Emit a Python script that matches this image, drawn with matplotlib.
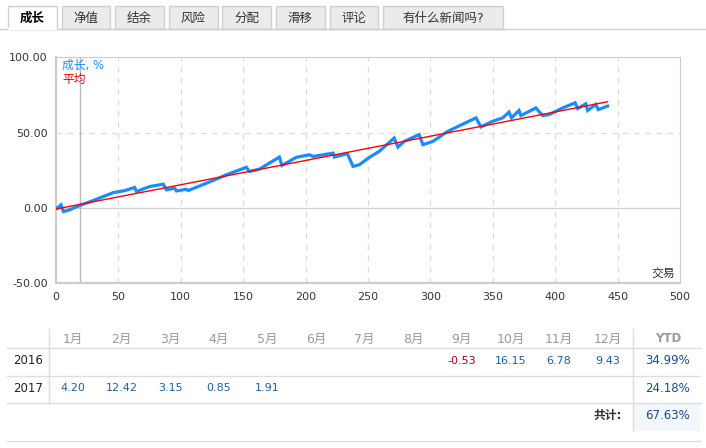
import numpy as np
import matplotlib
matplotlib.use('Agg')
import matplotlib.pyplot as plt
from matplotlib.patches import Rectangle

plt.rcParams['font.family'] = ['DejaVu Sans', 'Noto Sans CJK SC']

# ------------------------------
# data
# ------------------------------
tabs = ['成长', '净值', '结余', '风险', '分配', '滑移', '评论', '有什么新闻吗?']

trades = [0, 1, 4, 6, 10, 18, 30, 38, 46, 55, 63, 64.5, 75, 86, 88.5, 95, 96.5,
          104.5, 106, 120.5, 136.5, 152.5, 155, 163, 179, 181, 192.5, 203, 206,
          222, 223, 233.5, 238, 243, 251, 259, 271, 274, 279, 291, 294, 302,
          314, 336.5, 340.5, 350, 358, 363, 365, 371, 372.5, 384.5, 390, 395,
          406, 416, 418, 424.5, 426, 432.5, 434.5, 442]
growth = [0.0, -0.2, 2.0, -2.4, -1.5, 1.3, 5.0, 7.6, 10.2, 11.5, 13.6, 10.9,
          14.2, 15.8, 12.0, 13.1, 11.3, 12.4, 11.6, 16.4, 22.0, 27.0, 24.2,
          25.8, 33.8, 28.2, 33.6, 35.3, 34.2, 36.4, 33.8, 36.0, 27.6, 28.7,
          33.5, 37.6, 46.4, 40.4, 44.2, 48.7, 42.0, 44.2, 50.9, 59.8, 53.8,
          57.6, 59.8, 63.6, 59.8, 64.7, 61.3, 66.4, 61.3, 62.0, 66.4, 69.8,
          66.0, 69.1, 64.7, 68.7, 65.3, 67.63]

avg_trades = [0, 442]
avg_growth = [-0.7, 70.5]
marker_trade = 19

months = ['1月', '2月', '3月', '4月', '5月', '6月', '7月', '8月', '9月', '10月', '11月', '12月']
years = ['2016', '2017']
monthly = [
    [None, None, None, None, None, None, None, None, -0.53, 16.15, 6.78, 9.43],
    [4.20, 12.42, 3.15, 0.85, 1.91, None, None, None, None, None, None, None],
]
ytd = [34.99, 24.18]
total = 67.63

# ------------------------------
# figure
# ------------------------------
W, H = 706, 448
fig = plt.figure(figsize=(W / 100, H / 100), dpi=100)
fig.patch.set_facecolor('white')

# chart area
ax = fig.add_axes([56 / W, (H - 283.3) / H, 624 / W, 226 / H])
ax.set_xlim(0, 500)
ax.set_ylim(-50, 100)
ax.set_xticks(np.arange(0, 501, 50))
ax.set_yticks([-50, 0, 50, 100])
ax.set_yticklabels([f'{v:.2f}' for v in [-50, 0, 50, 100]])
ax.tick_params(length=0, labelsize=8, colors='#333344', pad=6)
for s in ax.spines.values():
    s.set_color('#cccccc')
ax.spines['left'].set_linewidth(1.6)
ax.spines['bottom'].set_linewidth(1.6)

for xv in range(50, 500, 50):
    ax.axvline(xv, color='#dddddd', lw=1, ls=(0, (4, 4)), zorder=1)
ax.axhline(50, color='#dddddd', lw=1, ls=(0, (4, 4)), zorder=1)
ax.axhline(0, color='#d4d4d4', lw=1, zorder=1)
ax.axvline(marker_trade, color='#b8b8b8', lw=1, zorder=1)

ax.plot(trades, growth, color='#1a8cff', lw=2.3, solid_joinstyle='miter', zorder=3)
ax.plot(avg_trades, avg_growth, color='#ff0000', lw=1.0, zorder=4)

ax.text(0.01, 0.965, '成长, %', transform=ax.transAxes, color='#1a8cff',
        fontsize=8.5, va='center', ha='left')
ax.text(0.01, 0.9, '平均', transform=ax.transAxes, color='#ee0000',
        fontsize=8.5, va='center', ha='left')
ax.text(0.992, 0.04, '交易', transform=ax.transAxes, color='#333333',
        fontsize=8.5, va='center', ha='right')

# overlay in pixel coordinates for tabs and table
ov = fig.add_axes([0, 0, 1, 1], zorder=5)
ov.set_xlim(0, W)
ov.set_ylim(H, 0)
ov.axis('off')
ov.patch.set_alpha(0)

# tabs
ov.plot([0, W], [29.3, 29.3], color='#cccccc', lw=1)
for i, name in enumerate(tabs):
    x0 = 8 + 53.6 * i
    w = 120 if i == len(tabs) - 1 else 48.7
    active = i == 0
    ov.add_patch(Rectangle((x0, 6), w, 23.3, facecolor='white' if active else '#ebebeb',
                           edgecolor='#d0d0d0', lw=1))
    if active:
        ov.plot([x0 + 0.5, x0 + w - 0.5], [29.3, 29.3], color='white', lw=1.5)
    ov.text(x0 + w / 2, 18, name, ha='center', va='center', fontsize=9,
            color='#000000' if active else '#333333',
            fontweight='bold' if active else 'normal')

# table
col_x = [73 + 48.6 * i for i in range(12)]
ytd_x = 668
line_c = '#dddddd'
for yl in [347.7, 375.7, 403.3, 440.7]:
    ov.plot([7, 700], [yl, yl], color=line_c, lw=1)
ov.plot([49.3, 49.3], [329, 403.3], color=line_c, lw=1)
ov.add_patch(Rectangle((632.7, 404), 67.3, 27, facecolor='#f3f6fb', edgecolor='none'))
ov.plot([632.7, 632.7], [329, 431], color=line_c, lw=1)

for x, m in zip(col_x, months):
    ov.text(x, 339, m, ha='center', va='center', fontsize=9, color='#999999')
ov.text(ytd_x, 339, 'YTD', ha='center', va='center', fontsize=8.5,
        color='#999999', fontweight='bold')

row_y = [360.7, 388.3]
for r, (yr, vals) in enumerate(zip(years, monthly)):
    ov.text(28, row_y[r], yr, ha='center', va='center', fontsize=8.5, color='#222222')
    for x, v in zip(col_x, vals):
        if v is None:
            continue
        ov.text(x, row_y[r], f'{v:.2f}', ha='center', va='center', fontsize=8,
                color='#a0002a' if v < 0 else '#2060a0')
    ov.text(ytd_x, row_y[r], f'{ytd[r]:.2f}%', ha='center', va='center',
            fontsize=8.5, color='#174f88')

ov.text(621.7, 415.7, '共计:', ha='right', va='center', fontsize=8.5,
        color='#333333', fontweight='bold')
ov.text(ytd_x, 415.7, f'{total:.2f}%', ha='center', va='center', fontsize=8.5,
        color='#174f88')

fig.savefig('out.png', dpi=100)
